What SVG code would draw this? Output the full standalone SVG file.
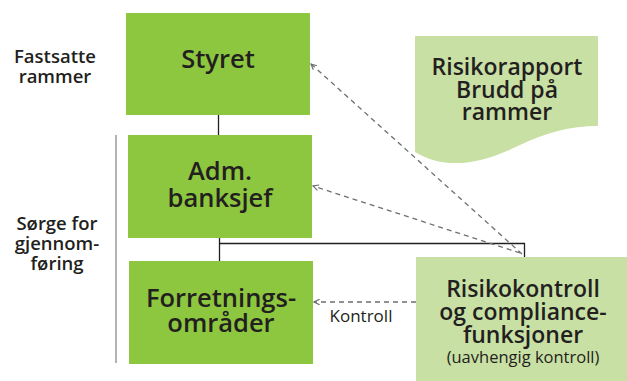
<svg xmlns="http://www.w3.org/2000/svg" width="627" height="381" viewBox="0 0 627 381">
  <style>
    .t { font-family: "Open Sans", "Noto Sans", "DejaVu Sans", sans-serif; fill: #231f20; text-anchor: middle; }
    .title { font-size: 25.5px; font-weight: 600; }
    .side { font-size: 18.5px; font-weight: 600; }
    .info { font-size: 23px; font-weight: 600; }
    .small { font-size: 16.5px; font-weight: 400; }
    .lbl { font-size: 17px; font-weight: 400; }
    .box { fill: #8dc63f; }
    .pale { fill: #c9e0a4; }
    .solid { stroke: #231f20; stroke-width: 1.3; fill: none; }
    .dash { stroke: #6d6e71; stroke-width: 1.3; fill: none; stroke-dasharray: 5 4; marker-end: url(#chev); }
  </style>
  <defs>
    <marker id="chev" viewBox="0 0 10 10" refX="9" refY="5" markerWidth="7" markerHeight="7" markerUnits="userSpaceOnUse" orient="auto">
      <path d="M1,1 L9,5 L1,9" fill="none" stroke="#6d6e71" stroke-width="1.6"/>
    </marker>
  </defs>

  <!-- side labels -->
  <g id="label-fastsatte">
    <text class="t side" x="55" y="63">Fastsatte</text>
    <text class="t side" x="55" y="83">rammer</text>
  </g>
  <g id="label-sorge">
    <line x1="116" y1="135" x2="116" y2="363" stroke="#8a8a8a" stroke-width="1.3"/>
    <text class="t side" x="57" y="230">Sørge for</text>
    <text class="t side" x="57" y="250">gjennom-</text>
    <text class="t side" x="57" y="270">føring</text>
  </g>

  <!-- connectors -->
  <g id="connectors">
    <line class="solid" x1="218.5" y1="115" x2="218.5" y2="135"/>
    <polyline class="solid" points="219.5,238 219.5,261"/>
    <polyline class="solid" points="219.5,243.5 524.5,243.5 524.5,257"/>
    <line class="dash" x1="522" y1="254" x2="311" y2="64"/>
    <line class="dash" x1="520" y1="253" x2="313" y2="186"/>
    <line class="dash" x1="416" y1="302" x2="314" y2="302"/>
    <text class="t lbl" x="361" y="322">Kontroll</text>
  </g>

  <!-- main chain -->
  <g id="styret">
    <rect class="box" x="126" y="13" width="184" height="102"/>
    <text class="t title" x="218" y="68">Styret</text>
  </g>
  <g id="adm-banksjef">
    <rect class="box" x="128" y="135" width="184" height="103"/>
    <text class="t title" x="220" y="180">Adm.</text>
    <text class="t title" x="220" y="207">banksjef</text>
  </g>
  <g id="forretningsomrader">
    <rect class="box" x="129" y="261" width="184" height="103"/>
    <text class="t title" x="221" y="307">Forretnings-</text>
    <text class="t title" x="221" y="332">områder</text>
  </g>

  <!-- report document -->
  <g id="risikorapport">
    <path class="pale" d="M415,36 H598 V126 C570,126 545,133 520,145 C485,162 448,172 415,152 Z"/>
    <text class="t info" x="507" y="75">Risikorapport</text>
    <text class="t info" x="507" y="98">Brudd på</text>
    <text class="t info" x="507" y="120">rammer</text>
  </g>

  <!-- control function -->
  <g id="risikokontroll">
    <rect class="pale" x="416" y="257" width="211" height="124"/>
    <text class="t info" x="523" y="297">Risikokontroll</text>
    <text class="t info" x="523" y="320">og compliance-</text>
    <text class="t info" x="523" y="343">funksjoner</text>
    <text class="t small" x="523" y="363">(uavhengig kontroll)</text>
  </g>
</svg>
